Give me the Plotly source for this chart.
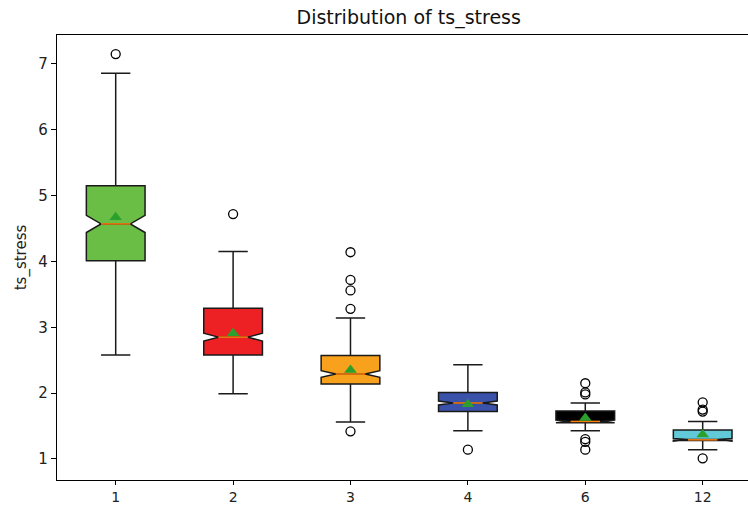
import plotly.graph_objects as go

# Group labels and per-group box statistics for ts_stress
labels = ["1", "2", "3", "4", "6", "12"]
q1 = [4.01, 2.58, 2.14, 1.72, 1.55, 1.28]
medians = [4.57, 2.85, 2.29, 1.85, 1.57, 1.29]
q3 = [5.15, 3.29, 2.57, 2.01, 1.73, 1.44]
lower_whisker = [2.58, 1.99, 1.56, 1.43, 1.43, 1.14]
upper_whisker = [6.86, 4.15, 3.14, 2.43, 1.85, 1.57]
means = [4.67, 2.91, 2.35, 1.83, 1.62, 1.37]
notch_half = [0.13, 0.06, 0.05, 0.03, 0.02, 0.02]
outliers = [
    [7.15],
    [4.72],
    [4.14, 3.72, 3.56, 3.28, 1.42],
    [1.14],
    [2.15, 2.01, 1.98, 1.30, 1.26, 1.14],
    [1.86, 1.75, 1.72, 1.01],
]
fill_colors = ["#6abe46", "#ed2024", "#f8a11c", "#3a52aa", "#000000", "#62c9d8"]

positions = list(range(1, len(labels) + 1))
box_width = 0.5
notch_inner = box_width / 4

fig = go.Figure()

for i, pos in enumerate(positions):
    fig.add_trace(go.Box(
        x=[pos],
        q1=[q1[i]], median=[medians[i]], q3=[q3[i]],
        lowerfence=[lower_whisker[i]], upperfence=[upper_whisker[i]],
        notchspan=[notch_half[i]],
        notched=True, notchwidth=0.25,
        width=box_width, whiskerwidth=0.5,
        fillcolor=fill_colors[i],
        line=dict(color="#1a1a1a", width=1.5),
        boxpoints=False,
        showlegend=False,
        hoverinfo="skip",
    ))

# Orange median segments across the notch
for i, pos in enumerate(positions):
    fig.add_trace(go.Scatter(
        x=[pos - notch_inner, pos + notch_inner],
        y=[medians[i], medians[i]],
        mode="lines",
        line=dict(color="#ff7f0e", width=1.5),
        showlegend=False, hoverinfo="skip",
    ))

# Outliers as open circles
for i, pos in enumerate(positions):
    fig.add_trace(go.Scatter(
        x=[pos] * len(outliers[i]),
        y=outliers[i],
        mode="markers",
        marker=dict(symbol="circle-open", size=9, color="#000000",
                    line=dict(width=1.3)),
        showlegend=False, hoverinfo="skip",
    ))

# Means as green triangles
fig.add_trace(go.Scatter(
    x=positions, y=means, mode="markers",
    marker=dict(symbol="triangle-up", size=11, color="#2ca02c"),
    showlegend=False, hoverinfo="skip",
))

fig.update_layout(
    width=748, height=505,
    margin=dict(l=57, r=0, t=35, b=25),
    paper_bgcolor="white", plot_bgcolor="white",
    font=dict(family="DejaVu Sans", size=15, color="#222222"),
    title=dict(text="Distribution of ts_stress", xref="paper", x=0.509,
               xanchor="center", yref="container", y=0.966, yanchor="middle",
               font=dict(size=19, color="#111111")),
)
fig.update_xaxes(
    range=[0.5, 6.386], tickvals=positions, ticktext=labels,
    tickfont=dict(size=14),
    showgrid=False, zeroline=False, automargin=False,
    showline=True, linecolor="#000000", linewidth=1.2, mirror=True,
    ticks="outside", ticklen=4, tickcolor="#000000",
)
fig.update_yaxes(
    range=[0.68, 7.44], tickvals=[1, 2, 3, 4, 5, 6, 7],
    showgrid=False, zeroline=False, automargin=False,
    showline=True, linecolor="#000000", linewidth=1.2,
    ticks="outside", ticklen=5, tickcolor="#000000",
    title=dict(text="ts_stress", standoff=8, font=dict(size=15)),
)

fig.write_html("out.html")
